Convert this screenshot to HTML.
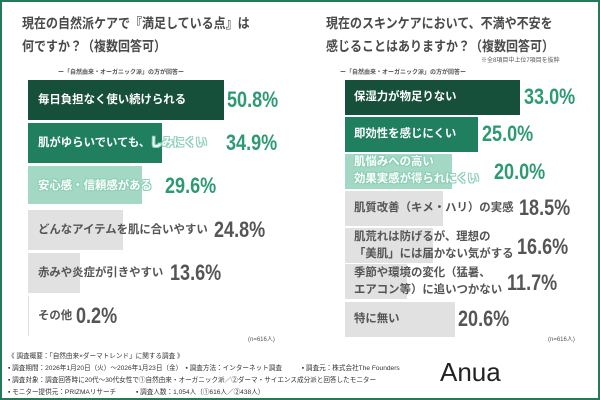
<!DOCTYPE html>
<html><head><meta charset="utf-8"><style>
*{margin:0;padding:0;box-sizing:border-box}
body{width:600px;height:400px;background:#fff;position:relative;overflow:hidden;font-family:"Liberation Sans","Noto Sans CJK JP",sans-serif;color:#444}
.frame{position:absolute;left:0;top:0;width:600px;height:400px;border:2px solid #237a57}
.t{position:absolute;font-weight:bold;font-size:12px;line-height:20px;color:#4a4a4a;white-space:nowrap;transform:scale(1.0,1.15);transform-origin:left top}
.s{position:absolute;font-size:6px;color:#555;white-space:nowrap;font-weight:bold}
.b{position:absolute;height:40px}
.l{position:absolute;font-size:11.4px;font-weight:bold;white-space:nowrap;line-height:17px}
.o{color:#fff;text-shadow:0 0 1px #8ccfb6,0 0 1px #8ccfb6,1px 1px 0 #8ccfb6,-1px -1px 0 #8ccfb6,1px -1px 0 #8ccfb6,-1px 1px 0 #8ccfb6}
.v{position:absolute;font-size:22px;font-weight:bold;white-space:nowrap;transform:scaleX(0.82);transform-origin:left top}
.g{color:#2e9a72}.k{color:#555}
.f{position:absolute;font-size:6.6px;color:#333;white-space:nowrap}
</style></head><body>
<div class="frame"></div>
<div class="t" style="left:22px;top:12px">現在の自然派ケアで『満足している点』は<br>何ですか？（複数回答可）</div>
<div class="t" style="left:326px;top:12px">現在のスキンケアにおいて、不満や不安を<br>感じることはありますか？（複数回答可）</div>
<div class="s" style="left:58px;top:67px">ー「自然由来・オーガニック派」の方が回答ー</div>
<div class="s" style="left:481px;top:55px;font-weight:normal">※全8項目中上位7項目を抜粋</div>
<div class="s" style="left:340px;top:67px">ー「自然由来・オーガニック派」の方が回答ー</div>

<div class="b" style="left:28px;top:80px;width:196px;background:#17503a"></div>
<div class="l" style="left:38px;top:92px;color:#fff">毎日負担なく使い続けられる</div>
<div class="v g" style="left:227px;top:87px">50.8%</div>
<div class="b" style="left:28px;top:123px;width:134px;background:#1f7f5e"></div>
<div class="l" style="left:38px;top:135px;color:#fff">肌がゆらいでいても、<span class="o">しみにくい</span></div>
<div class="v g" style="left:226px;top:130px">34.9%</div>
<div class="b" style="left:28px;top:166px;width:114px;background:#a3d8c4;height:38px"></div>
<div class="l o" style="left:38px;top:178px">安心感・信頼感がある</div>
<div class="v g" style="left:165px;top:173px">29.6%</div>
<div class="b" style="left:28px;top:210px;width:95px;background:#e1e1e1"></div>
<div class="l" style="left:38px;top:222px;color:#555">どんなアイテムを肌に合いやすい</div>
<div class="v k" style="left:214px;top:217px">24.8%</div>
<div class="b" style="left:28px;top:253px;width:52px;background:#e1e1e1"></div>
<div class="l" style="left:38px;top:265px;color:#555">赤みや炎症が引きやすい</div>
<div class="v k" style="left:170px;top:260px">13.6%</div>
<div class="b" style="left:28px;top:296px;width:1px;background:#e1e1e1"></div>
<div class="l" style="left:38px;top:308px;color:#555">その他</div>
<div class="v k" style="left:76px;top:303px">0.2%</div>
<div class="s" style="left:248px;top:334px;font-weight:normal">(n=616人)</div>

<div class="b" style="left:345px;top:80px;width:175px;height:35px;background:#17503a"></div>
<div class="l" style="left:354px;top:89px;color:#fff">保湿力が物足りない</div>
<div class="v g" style="left:524px;top:84px">33.0%</div>
<div class="b" style="left:345px;top:117px;width:133px;height:35px;background:#1f7f5e"></div>
<div class="l" style="left:354px;top:126px;color:#fff">即効性を感じにくい</div>
<div class="v g" style="left:482px;top:121px">25.0%</div>
<div class="b" style="left:345px;top:154px;width:107px;height:35px;background:#a3d8c4"></div>
<div class="l o" style="left:354px;top:154px">肌悩みへの高い<br>効果実感が得られにくい</div>
<div class="v g" style="left:494px;top:159px">20.0%</div>
<div class="b" style="left:345px;top:191px;width:98px;height:35px;background:#e1e1e1"></div>
<div class="l" style="left:354px;top:200px;color:#555">肌質改善（キメ・ハリ）の実感</div>
<div class="v k" style="left:519px;top:195px">18.5%</div>
<div class="b" style="left:345px;top:228px;width:88px;height:35px;background:#e1e1e1"></div>
<div class="l" style="left:354px;top:229px;color:#555">肌荒れは防げるが、理想の<br>「美肌」には届かない気がする</div>
<div class="v k" style="left:517px;top:234px">16.6%</div>
<div class="b" style="left:345px;top:264px;width:62px;height:35px;background:#e1e1e1"></div>
<div class="l" style="left:354px;top:265px;color:#555">季節や環境の変化（猛暑、<br>エアコン等）に追いつかない</div>
<div class="v k" style="left:507px;top:270px">11.7%</div>
<div class="b" style="left:345px;top:302px;width:110px;height:35px;background:#e1e1e1"></div>
<div class="l" style="left:354px;top:311px;color:#555">特に無い</div>
<div class="v k" style="left:458px;top:306px">20.6%</div>
<div class="s" style="left:548px;top:334px;font-weight:normal">(n=616人)</div>

<div class="f" style="left:8px;top:350px">《 調査概要：「自然由来×ダーマトレンド」に関する調査 》</div>
<div class="f" style="left:8px;top:362px">▪ 調査期間：2026年1月20日（火）〜2026年1月23日（金）　▪ 調査方法：インターネット調査　　　▪ 調査元：株式会社The Founders</div>
<div class="f" style="left:8px;top:374px">▪ 調査対象：調査回答時に20代〜30代女性で①自然由来・オーガニック派／②ダーマ・サイエンス成分派と回答したモニター</div>
<div class="f" style="left:8px;top:386px">▪ モニター提供元：PRIZMAリサーチ　　　▪ 調査人数：1,054人（①616人／②438人）</div>
<div style="position:absolute;left:440px;top:357px;font-size:26px;color:#222;font-family:'Liberation Sans',sans-serif">Anua</div>
</body></html>
